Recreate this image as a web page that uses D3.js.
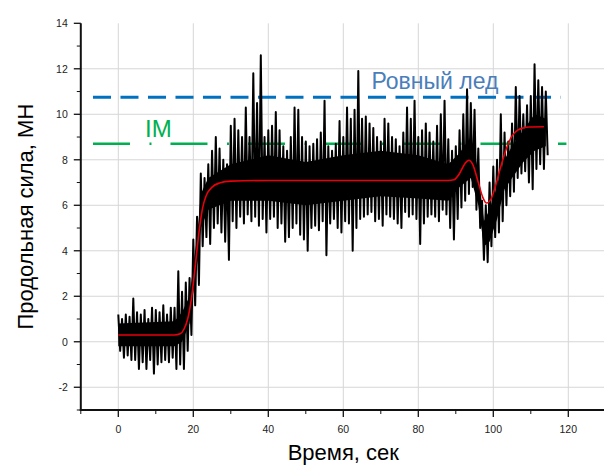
<!DOCTYPE html>
<html>
<head>
<meta charset="utf-8">
<script src="https://cdn.jsdelivr.net/npm/d3@7"></script>
<style>
  body { margin: 0; background: #fff; }
  svg { display: block; font-family: "Liberation Sans", Arial, sans-serif; }
</style>
</head>
<body>
<div id="chart"></div>
<script>
// measured force, envelope per second (max / min), t = 0..114 s
const forceHi = [1.2, 1.0, 1.2, 1.1, 1.9, 1.3, 1.2, 1.4, 1.0, 1.5,
  1.4, 1.3, 1.6, 1.2, 1.5, 1.5, 3.1, 2.2, 2.6, 2.8,
  4.5, 5.5, 7.4, 7.2, 7.8, 8.4, 9.0, 8.5, 8.0, 7.8,
  9.5, 9.8, 9.3, 9.0, 10.3, 9.0, 11.8, 10.5, 12.6, 9.0,
  9.3, 9.5, 10.1, 9.3, 8.6, 8.4, 9.0, 10.3, 10.2, 9.0,
  8.8, 8.6, 8.7, 8.9, 9.2, 10.6, 8.6, 8.4, 8.7, 9.7,
  9.0, 10.3, 9.8, 10.2, 11.9, 9.8, 9.9, 9.6, 9.4, 9.0,
  8.8, 9.8, 9.6, 9.0, 8.9, 8.6, 9.2, 10.3, 9.8, 10.6,
  9.0, 9.3, 9.6, 9.2, 8.8, 9.5, 10.0, 10.6, 8.9, 8.4,
  8.6, 9.3, 10.0, 11.1, 10.5, 10.2, 8.5, 6.2, 6.0, 7.0,
  7.7, 8.0, 10.0, 9.2, 8.8, 9.6, 11.2, 10.8, 10.0, 10.4,
  10.8, 12.2, 11.5, 11.2, 11.0];
const forceLo = [-0.4, -0.7, -0.6, -0.8, -0.8, -1.2, -0.9, -1.2, -0.8, -1.4,
  -1.0, -0.9, -0.8, -0.9, -0.7, -1.2, -1.0, -1.2, -0.4, 0.3,
  1.6, 2.5, 4.2, 4.6, 4.3, 5.0, 5.2, 4.8, 4.4, 3.6,
  5.3, 5.0, 5.5, 5.2, 5.6, 5.3, 5.5, 5.1, 5.4, 4.8,
  5.4, 5.5, 5.0, 5.2, 4.4, 4.6, 5.0, 5.2, 4.7, 4.5,
  4.0, 5.0, 5.1, 4.9, 5.3, 3.8, 5.2, 5.4, 5.0, 4.8,
  5.3, 5.2, 4.0, 5.0, 5.4, 5.5, 5.6, 5.7, 5.3, 5.4,
  5.1, 5.6, 5.5, 5.4, 5.2, 5.0, 5.7, 5.5, 5.6, 5.4,
  4.3, 5.2, 5.5, 5.6, 5.5, 5.3, 5.8, 5.6, 5.0, 4.5,
  5.4, 5.9, 6.2, 6.5, 6.8, 5.8, 5.0, 3.6, 3.5, 4.2,
  4.6, 4.8, 5.3, 6.0, 6.4, 6.6, 7.2, 7.4, 7.5, 7.0,
  6.7, 7.6, 7.8, 7.6, 8.2];

// dense core of the signal (where the trace is solid black)
const coreT = [0, 15, 17, 19, 20, 21, 22, 24, 30, 40, 50, 60, 70, 80, 88, 91, 94, 96, 97.5, 99, 101, 103, 105, 108, 111, 114];
const coreHi = [0.8, 0.9, 1.3, 2.0, 3.3, 4.6, 6.5, 7.2, 7.8, 8.2, 7.9, 8.2, 8.4, 8.2, 7.8, 8.3, 9.0, 7.5, 5.3, 5.8, 6.8, 8.0, 8.6, 9.3, 10.0, 9.8];
const coreLo = [-0.2, -0.2, 0.0, 0.8, 2.2, 3.4, 5.0, 5.8, 6.2, 6.2, 6.0, 6.2, 6.4, 6.3, 6.2, 6.8, 7.2, 6.0, 4.2, 4.4, 5.4, 6.7, 7.2, 7.9, 8.4, 8.6];

// fitted curve (red)
const fitT = [0, 15, 16.5, 17.5, 18.5, 19.5, 20.5, 21.5, 22.5, 23.5, 25, 27, 30, 40, 88, 89.5, 91, 92.5, 93.5, 94.5, 96, 97.2, 98.2, 99.3, 100.5, 102, 103.5, 105, 106.5, 108, 109.5, 113.5];
const fitV = [0.3, 0.3, 0.35, 0.55, 1.0, 1.9, 3.3, 4.8, 5.9, 6.45, 6.8, 6.98, 7.06, 7.09, 7.09, 7.12, 7.4, 7.85, 7.98, 7.8, 7.0, 6.35, 6.1, 6.25, 6.8, 7.7, 8.5, 9.05, 9.3, 9.4, 9.44, 9.45];

// reference levels
const refNames = ["Ровный лед", "IM"];
const refLevels = [10.75, 8.7];
const refStart = [-6.75, -6.75];
const refEnd = [118, 119.5];

const xTicks = [0, 20, 40, 60, 80, 100, 120];
const yTicks = [-2, 0, 2, 4, 6, 8, 10, 12, 14];

const W = 604, H = 466;
const svg = d3.select("#chart").append("svg")
  .attr("width", W)
  .attr("height", H);

const x = d3.scaleLinear().domain([-10, 130]).range([80.8, 605.8]);
const y = d3.scaleLinear().domain([-3, 14]).range([410, 23.3]);

// grid
svg.append("g").selectAll("line")
  .data(xTicks)
  .enter().append("line")
  .attr("x1", d => x(d)).attr("x2", d => x(d))
  .attr("y1", y(14)).attr("y2", y(-3))
  .attr("stroke", "#d6d6d6").attr("stroke-width", 1);
svg.append("g").selectAll("line")
  .data(yTicks.filter(d => d < 14))
  .enter().append("line")
  .attr("x1", x(-10)).attr("x2", W)
  .attr("y1", d => y(d)).attr("y2", d => y(d))
  .attr("stroke", "#d6d6d6").attr("stroke-width", 1);

// reference lines
const refColors = ["#0070c0", "#00b050"];
const refDash = ["18,9.5", "37,19.5,2,19"];
const refWidth = [3, 2.5];
refLevels.forEach((v, i) => {
  svg.append("line")
    .attr("x1", x(refStart[i])).attr("x2", x(refEnd[i]))
    .attr("y1", y(v)).attr("y2", y(v))
    .attr("stroke", refColors[i])
    .attr("stroke-width", refWidth[i])
    .attr("stroke-dasharray", refDash[i]);
});

// noisy signal: solid core + zigzag between max and min of each second
svg.append("path")
  .datum(coreT.map((t, i) => [t, coreLo[i], coreHi[i]]))
  .attr("fill", "#000")
  .attr("d", d3.area().x(d => x(d[0])).y0(d => y(d[1])).y1(d => y(d[2])));

const pts = [];
forceHi.forEach((h, i) => {
  pts.push([i, h]);
  pts.push([i + 0.5, forceLo[i]]);
});
svg.append("path")
  .datum(pts)
  .attr("fill", "none")
  .attr("stroke", "#000")
  .attr("stroke-width", 2)
  .attr("stroke-linejoin", "round")
  .attr("d", d3.line().x(d => x(d[0])).y(d => y(d[1])));

// fit
svg.append("path")
  .datum(fitT.map((t, i) => [t, fitV[i]]))
  .attr("fill", "none")
  .attr("stroke", "#e8000b")
  .attr("stroke-width", 1.6)
  .attr("d", d3.line().curve(d3.curveMonotoneX).x(d => x(d[0])).y(d => y(d[1])));

// labels for the levels
svg.append("text")
  .attr("x", 371.5).attr("y", 89)
  .attr("fill", "#4a7ebb")
  .attr("font-size", 23)
  .text(refNames[0]);
svg.append("text")
  .attr("x", 145).attr("y", 137)
  .attr("fill", "#00b050")
  .attr("font-size", 24)
  .text(refNames[1]);

// axes
const xAxis = svg.append("g").attr("transform", `translate(0,${y(-3)})`);
xAxis.append("line")
  .attr("x1", x(-10) - 1).attr("x2", W)
  .attr("stroke", "#111").attr("stroke-width", 2);
xAxis.selectAll(".minor")
  .data([-10, 10, 30, 50, 70, 90, 110])
  .enter().append("line")
  .attr("x1", d => x(d)).attr("x2", d => x(d))
  .attr("y1", 0).attr("y2", 4)
  .attr("stroke", "#111").attr("stroke-width", 1);
xAxis.selectAll(".major")
  .data(xTicks)
  .enter().append("line")
  .attr("x1", d => x(d)).attr("x2", d => x(d))
  .attr("y1", 0).attr("y2", 7)
  .attr("stroke", "#111").attr("stroke-width", 1.3);
xAxis.selectAll("text")
  .data(xTicks)
  .enter().append("text")
  .attr("x", d => x(d)).attr("y", 23)
  .attr("text-anchor", "middle")
  .attr("font-size", 10.5)
  .attr("fill", "#222")
  .text(d => d);

const yAxis = svg.append("g").attr("transform", `translate(${x(-10)},0)`);
yAxis.append("line")
  .attr("y1", y(14)).attr("y2", y(-3) + 1)
  .attr("stroke", "#111").attr("stroke-width", 2);
yAxis.selectAll(".minor")
  .data([-3, -1, 1, 3, 5, 7, 9, 11, 13])
  .enter().append("line")
  .attr("y1", d => y(d)).attr("y2", d => y(d))
  .attr("x1", -4).attr("x2", 0)
  .attr("stroke", "#111").attr("stroke-width", 1);
yAxis.selectAll(".major")
  .data(yTicks)
  .enter().append("line")
  .attr("y1", d => y(d)).attr("y2", d => y(d))
  .attr("x1", -7).attr("x2", 0)
  .attr("stroke", "#111").attr("stroke-width", 1.3);
yAxis.selectAll("text")
  .data(yTicks)
  .enter().append("text")
  .attr("x", -13).attr("y", d => y(d) + 4)
  .attr("text-anchor", "end")
  .attr("font-size", 10.5)
  .attr("fill", "#222")
  .text(d => d);

// titles
svg.append("text")
  .attr("x", (x(-10) + x(130)) / 2).attr("y", 460)
  .attr("text-anchor", "middle")
  .attr("font-size", 22)
  .text("Время, сек");
svg.append("text")
  .attr("transform", `translate(33,${(y(14) + y(-3)) / 2}) rotate(-90)`)
  .attr("text-anchor", "middle")
  .attr("font-size", 22)
  .text("Продольная сила, МН");
</script>
</body>
</html>
